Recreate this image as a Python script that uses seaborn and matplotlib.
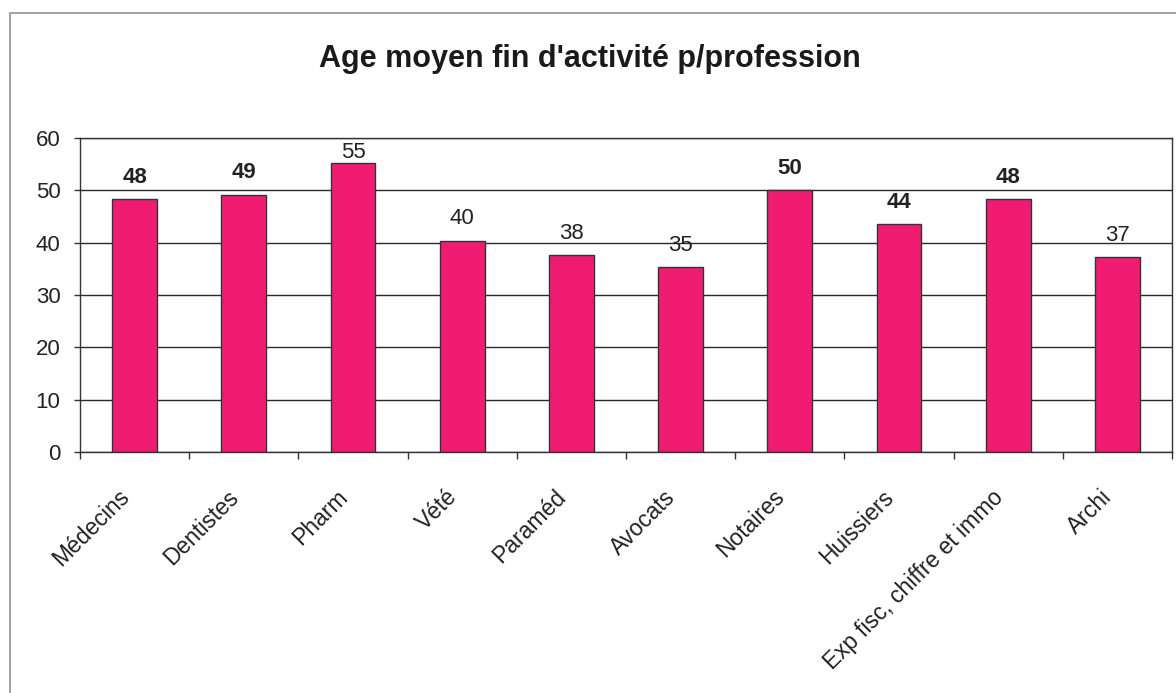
import numpy as np
import pandas as pd
import matplotlib.pyplot as plt
import matplotlib.transforms as mtransforms
import seaborn as sns
from matplotlib.patches import Rectangle

# Data
professions = ["Médecins", "Dentistes", "Pharm", "Vété", "Paraméd", "Avocats",
               "Notaires", "Huissiers", "Exp fisc, chiffre et immo", "Archi"]
ages = [48.3, 49.2, 55.2, 40.4, 37.6, 35.4, 50.1, 43.6, 48.4, 37.2]

df = pd.DataFrame({"profession": professions, "age": ages})

sns.set_theme(style="white")
plt.rcParams["font.family"] = ["Liberation Sans", "DejaVu Sans"]

W, H = 1176, 693
fig = plt.figure(figsize=(W / 100, H / 100), dpi=100)
ax = fig.add_axes([80 / W, 1 - 452 / H, 1092 / W, 314 / H])

# outer chart frame (page border, runs off right and bottom)
fig.patches.append(Rectangle((10 / W, -0.05), 1.2, 1.05 - 13 / H,
                             transform=fig.transFigure, fill=False,
                             edgecolor="#9a9a9a", linewidth=1.3))

sns.barplot(data=df, x="profession", y="age", color="#f01c72",
            width=0.41, edgecolor="#333333", linewidth=1.0, saturation=1, ax=ax)

labels = ax.bar_label(ax.containers[0], fmt="%.0f", padding=8, fontsize=16,
                      color="#222222")
# the scan shows some labels heavier than others
for i in [0, 1, 6, 7, 8]:
    labels[i].set_fontweight("bold")
# tallest bar's label is squeezed against the top of the plot
labels[2].xyann = (0, 0)

ax.set_ylim(0, 60)
ax.set_xlim(-0.5, len(professions) - 0.5)
ax.set_yticks(range(0, 61, 10))
ax.yaxis.grid(True, color="#2a2a2a", linewidth=1.0)
ax.set_axisbelow(True)

ax.set_xlabel("")
ax.set_ylabel("")
ax.set_xticks(range(len(professions)))
ax.set_xticklabels(professions, rotation=45, ha="right", rotation_mode="anchor",
                   fontsize=16.5, color="#222222")
ax.set_xticks(np.arange(-0.5, len(professions), 1.0), minor=True)
ax.tick_params(axis="x", which="major", length=0, pad=24)
ax.tick_params(axis="x", which="minor", length=5, width=1, color="#333333",
               direction="out", bottom=True)
ax.tick_params(axis="y", length=4, width=1, color="#333333", left=True,
               labelsize=16, labelcolor="#222222", pad=10)

# nudge the slanted labels left (after tick_params, which resets transforms)
shift = mtransforms.ScaledTranslation(-17 / 100, 0, fig.dpi_scale_trans)
for lab in ax.get_xticklabels():
    lab.set_transform(lab.get_transform() + shift)

for side in ["left", "bottom", "top", "right"]:
    ax.spines[side].set_color("#333333")
    ax.spines[side].set_linewidth(1.0)

fig.text(0.502, 1 - 59 / H, "Age moyen fin d'activité p/profession",
         ha="center", va="center", fontsize=22, fontweight="bold",
         color="#1a1a1a")

fig.savefig("out.png", dpi=100, facecolor="white")
